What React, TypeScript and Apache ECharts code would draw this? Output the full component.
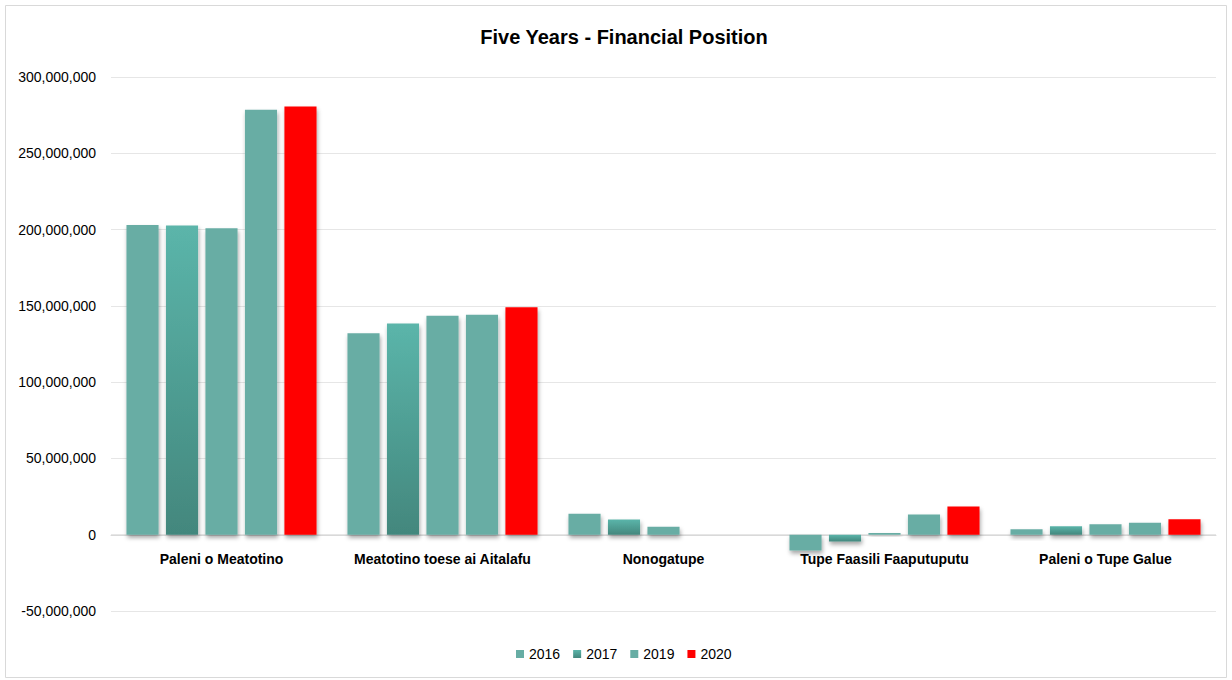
import React, { useEffect, useRef } from "react";
import * as echarts from "echarts";

const categories = [
  "Paleni o Meatotino",
  "Meatotino toese ai Aitalafu",
  "Nonogatupe",
  "Tupe Faasili Faaputuputu",
  "Paleni o Tupe Galue",
];
const years = ["2016", "2017", "2018", "2019", "2020"];
const legendYears = ["2016", "2017", "2019", "2020"];
const v2016 = [203000000, 132100000, 13800000, -10300000, 3500000];
const v2017 = [202700000, 138400000, 10000000, -4400000, 5600000];
const v2018 = [200900000, 143500000, 5200000, 1100000, 6800000];
const v2019 = [278600000, 144100000, null, 13300000, 7900000];
const v2020 = [280600000, 149100000, null, 18500000, 10200000];
const seriesValues = [v2016, v2017, v2018, v2019, v2020];
const yTicks = { min: -50000000, max: 300000000, interval: 50000000 };

const FONT = "'Liberation Sans', Arial, sans-serif";
const TEAL = "#67ADA4";

export default function App() {
  const ref = useRef<HTMLDivElement>(null);
  useEffect(() => {
    if (!ref.current) return;
    const chart = echarts.init(ref.current, null, { renderer: "svg" });
    const gradient = new echarts.graphic.LinearGradient(0, 0, 0, 1, [
      { offset: 0, color: "#5BB5AA" },
      { offset: 1, color: "#43877D" },
    ]);
    const colors = [TEAL, gradient, TEAL, TEAL, "#FF0000"];
    chart.setOption({
      animation: false,
      backgroundColor: "#ffffff",
      title: {
        text: "Five Years - Financial Position",
        left: 619,
        textAlign: "center",
        top: 22,
        textStyle: { fontFamily: FONT, fontSize: 20, fontWeight: "bold", color: "#000" },
      },
      graphic: [
        {
          type: "rect",
          shape: { x: 5.5, y: 5.5, width: 1221, height: 672 },
          style: { fill: "none", stroke: "#d9d9d9", lineWidth: 1 },
          silent: true,
        },
      ],
      legend: {
        data: legendYears,
        top: 642,
        left: 511,
        itemWidth: 8,
        itemHeight: 8,
        itemGap: 13,
        icon: "rect",
        textStyle: { fontFamily: FONT, fontSize: 14, color: "#000" },
      },
      grid: { left: 111, right: 16, top: 77, bottom: 69, containLabel: false },
      xAxis: {
        type: "category",
        data: categories,
        offset: -76,
        axisLine: { show: true, onZero: false, lineStyle: { color: "#d9d9d9" } },
        axisTick: { show: false },
        axisLabel: {
          fontFamily: FONT,
          fontSize: 14,
          fontWeight: "bold",
          color: "#000",
          margin: 17,
          interval: 0,
        },
      },
      yAxis: {
        type: "value",
        min: yTicks.min,
        max: yTicks.max,
        interval: yTicks.interval,
        axisLine: { show: false },
        axisTick: { show: false },
        splitLine: { lineStyle: { color: "#e6e6e6" } },
        axisLabel: {
          fontFamily: FONT,
          fontSize: 14,
          color: "#000",
          margin: 15,
          formatter: (v: number) => v.toLocaleString("en-US"),
        },
      },
      series: years.map((y, i) => ({
        name: y,
        type: "bar",
        data: seriesValues[i],
        barGap: "23%",
        barCategoryGap: "14%",
        itemStyle: {
          color: colors[i],
          shadowColor: "rgba(0,0,0,0.35)",
          shadowBlur: 4,
          shadowOffsetY: 3,
          shadowOffsetX: 1,
        },
      })),
    });
    return () => chart.dispose();
  }, []);
  return (
    <div
      ref={ref}
      style={{ position: "fixed", left: 0, top: 0, width: 1232, height: 680 }}
    />
  );
}
